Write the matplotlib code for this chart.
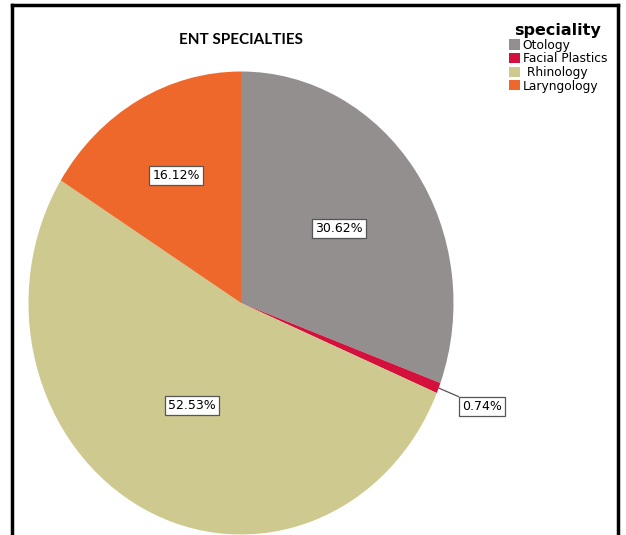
import matplotlib.pyplot as plt
import numpy as np
from matplotlib.patches import Patch

# datos
specialties = ['Otology', 'Facial Plastics', 'Rhinology', 'Laryngology']
legend_names = ['Otology', 'Facial Plastics', ' Rhinology', 'Laryngology']
percents = [30.62, 0.74, 52.53, 16.12]
colors = ['#938f8f', '#d3113c', '#cdc98f', '#ef682b']
label_r = [0.56, 1.22, 0.50, 0.63]

W, H = 626, 535
fig = plt.figure(figsize=(W / 100, H / 100), dpi=100)

# ejes del pie (elipse: mas alto que ancho)
cx, cy, rx, ry = 241, 303, 212.5, 231.5
ax = fig.add_axes([(cx - rx) / W, (H - cy - ry) / H, 2 * rx / W, 2 * ry / H])
wedges, _ = ax.pie(percents, colors=colors, startangle=90, counterclock=False,
                   wedgeprops=dict(linewidth=0))
ax.set_aspect('auto')
ax.set_xlim(-1, 1)
ax.set_ylim(-1, 1)
ax.axis('off')

box = dict(boxstyle='square,pad=0.25', fc='white', ec='#555555', lw=0.9)
for w, p, r in zip(wedges, percents, label_r):
    ang = np.deg2rad((w.theta1 + w.theta2) / 2)
    x, y = np.cos(ang), np.sin(ang)
    if r > 1:
        ax.annotate(f'{p:.2f}%', xy=(x, y), xytext=(r * x, r * y),
                    ha='center', va='center', fontsize=9, bbox=box,
                    arrowprops=dict(arrowstyle='-', color='#555555', lw=0.9,
                                    shrinkA=0, shrinkB=0))
    else:
        ax.text(r * x, r * y, f'{p:.2f}%', ha='center', va='center',
                fontsize=9, bbox=box)

# titulo
fig.text(cx / W, 1 - 40 / H, 'ENT SPECIALTIES', ha='center', va='center',
         fontsize=11, fontweight='bold', family='Lato')

# leyenda
handles = [Patch(facecolor=c, edgecolor='none') for c in colors]
leg = fig.legend(handles, legend_names, title='speciality', loc='upper left',
                 bbox_to_anchor=(503 / W, 1 - 17 / H), frameon=False,
                 fontsize=8.8, handlelength=0.9, handleheight=0.9,
                 handletextpad=0.2, labelspacing=0.05, borderpad=0,
                 title_fontproperties={'weight': 'bold', 'size': 11.5})
leg._legend_box.align = 'left'
leg.get_title().set_position((5, 0))

# marco negro
fig.add_artist(plt.Line2D([12 / W, 12 / W], [0, 1 - 5 / H], color='black', lw=2.5))
fig.add_artist(plt.Line2D([12 / W, 618 / W], [1 - 5 / H, 1 - 5 / H], color='black', lw=2.5))
fig.add_artist(plt.Line2D([618 / W, 618 / W], [0, 1 - 5 / H], color='black', lw=2.5))

plt.savefig('out.png', dpi=100)
